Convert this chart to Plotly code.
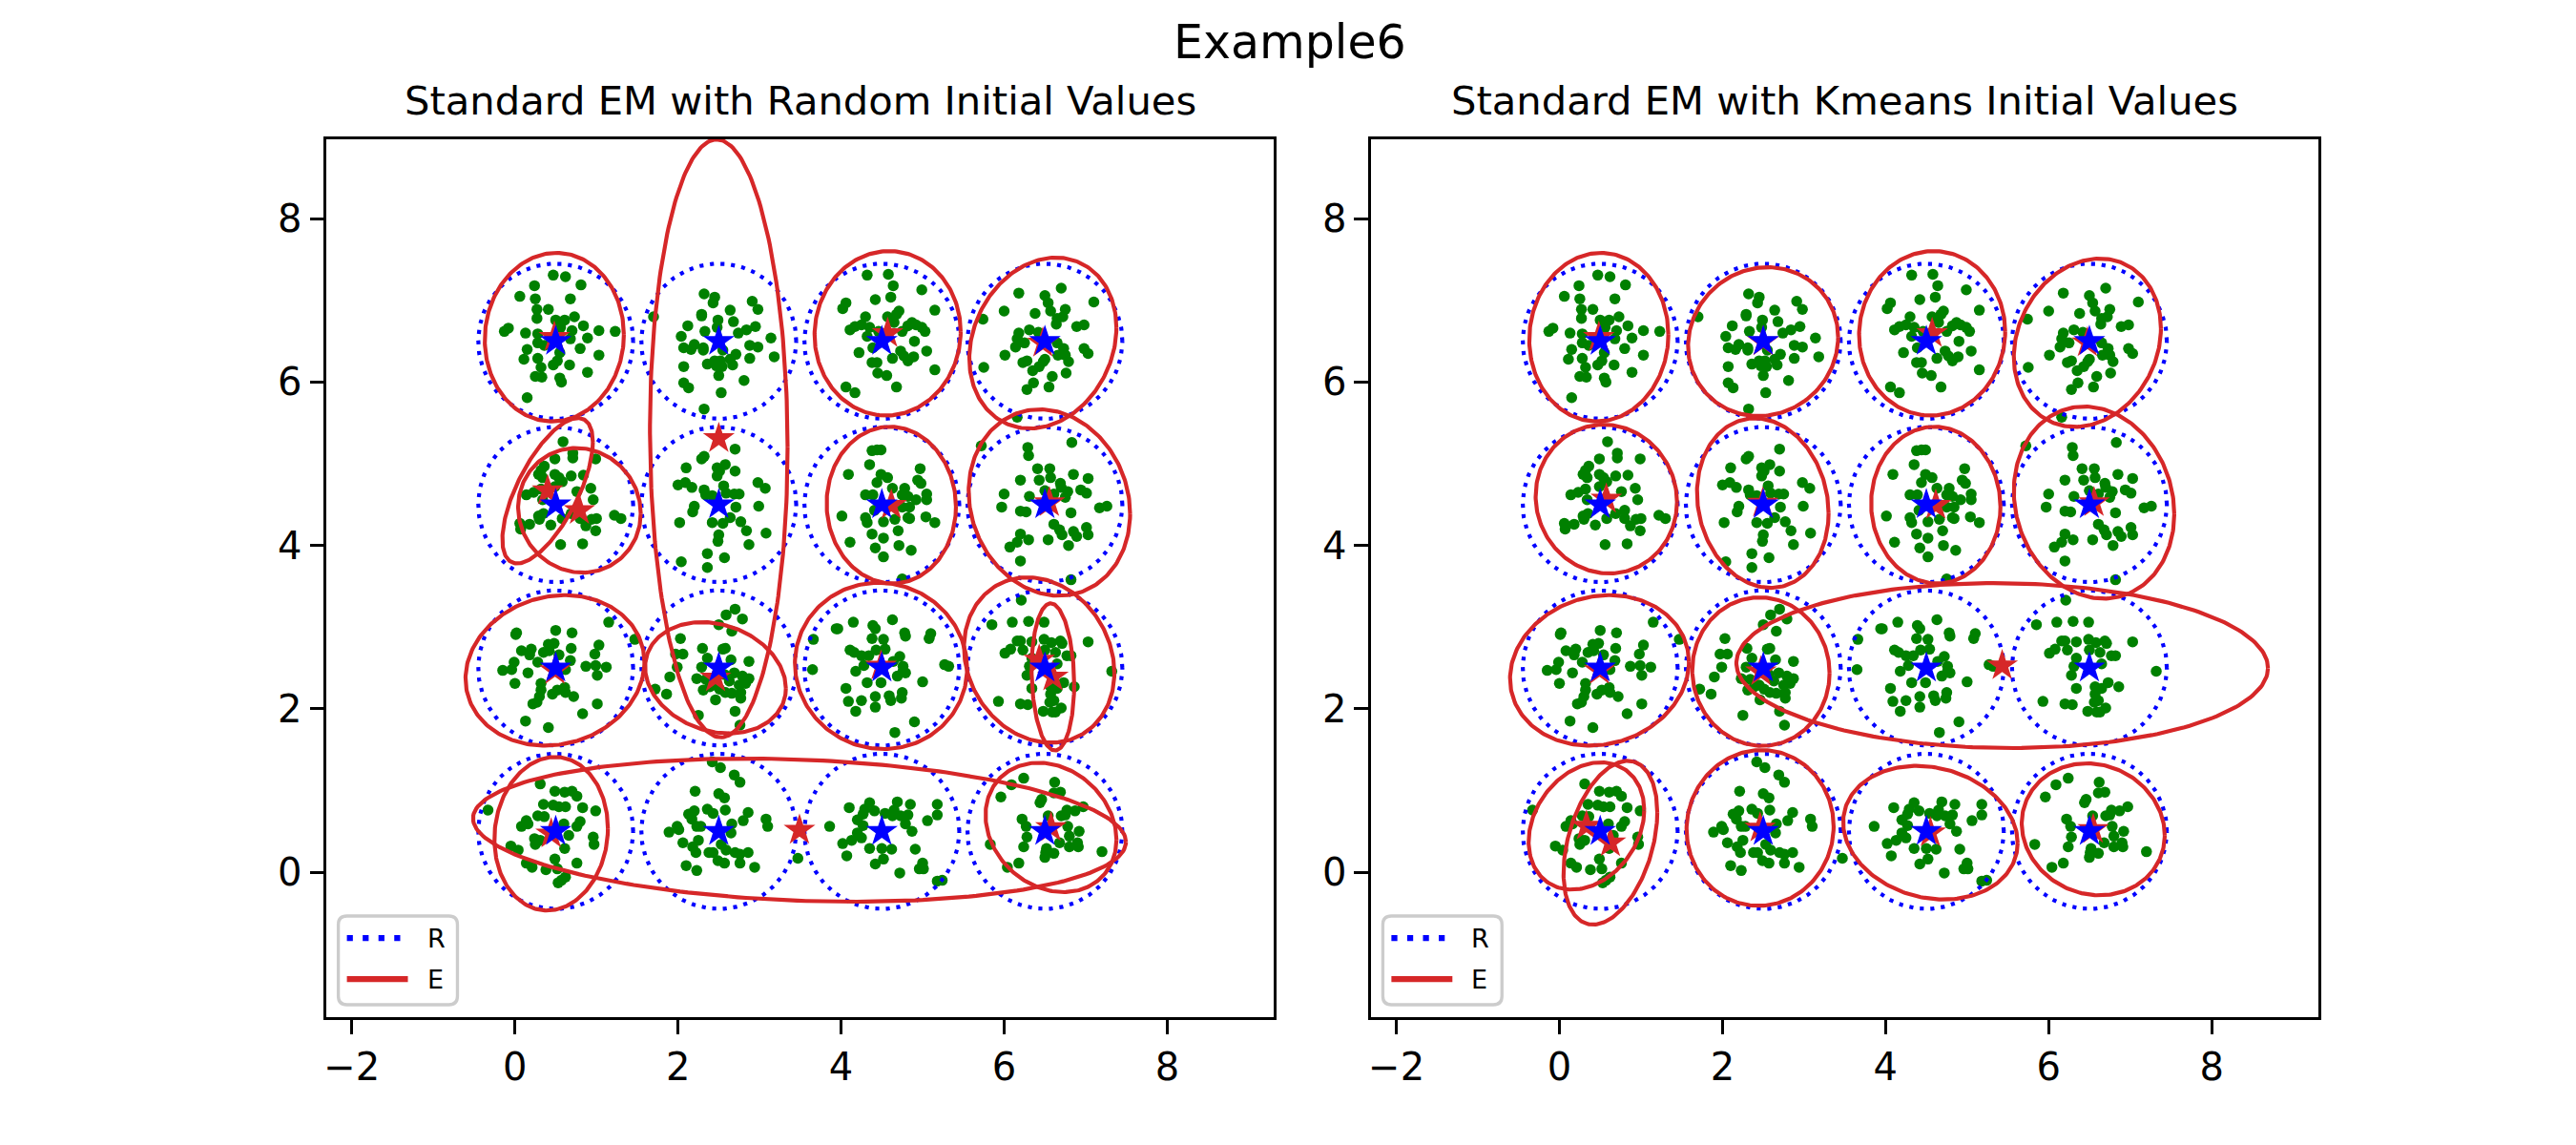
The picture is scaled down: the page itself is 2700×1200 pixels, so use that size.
import numpy as np
import plotly.graph_objects as go

# green sample points per grid cell, (x, y)
c05_65 = [(.47,7.31),(.62,7.29),(.81,7.19),(.24,7.18),(.06,7.05),(.25,7.02),(.68,7.02),(.27,6.89),(.41,6.89),(.27,6.78),(.50,6.76),(.61,6.76),(.73,6.80),(.84,6.69),(1.03,6.63),(1.23,6.62),(-.08,6.66),(-.13,6.62),(.13,6.60),(.28,6.59),(.70,6.63),(.89,6.54),(.68,6.53),(.28,6.48),(.36,6.45),(.15,6.40),(.80,6.41),(1.03,6.33),(.11,6.28),(.28,6.29),(.52,6.26),(.47,6.21),(.67,6.21),(.32,6.18),(.89,6.12),(.25,6.07),(.33,6.06),(.55,6.05),(.57,6.00),(.15,5.81),(.54,6.73),(.56,6.67),(.55,6.36)]
c25_65 = [(2.32,7.08),(2.45,7.04),(2.43,6.97),(2.91,6.99),(2.98,6.89),(2.64,6.88),(2.29,6.83),(2.29,6.81),(2.49,6.76),(2.68,6.74),(2.12,6.69),(2.48,6.67),(2.33,6.62),(2.84,6.64),(2.95,6.68),(2.74,6.60),(2.04,6.56),(3.14,6.54),(2.20,6.46),(2.07,6.42),(2.16,6.40),(2.31,6.42),(2.31,6.39),(2.88,6.45),(2.98,6.43),(2.55,6.39),(2.71,6.34),(2.64,6.28),(2.88,6.29),(3.18,6.31),(2.36,6.22),(2.45,6.26),(2.52,6.26),(2.47,6.20),(2.54,6.19),(2.67,6.21),(2.07,6.19),(2.50,6.08),(2.81,6.02),(2.07,5.99),(2.13,5.93),(2.53,5.87),(2.32,5.67),(1.70,6.80)]
c45_65 = [(4.32,7.31),(4.58,7.32),(4.64,7.18),(4.99,7.13),(4.42,7.01),(4.61,7.04),(4.06,6.97),(4.02,6.90),(5.15,6.88),(4.71,6.87),(4.68,6.83),(4.30,6.80),(4.57,6.80),(4.65,6.73),(4.25,6.70),(4.17,6.68),(4.11,6.64),(4.35,6.67),(4.32,6.56),(4.46,6.62),(4.75,6.62),(4.82,6.69),(4.87,6.73),(4.92,6.70),(4.99,6.67),(5.03,6.62),(4.90,6.50),(4.39,6.42),(4.22,6.36),(5.05,6.38),(4.73,6.38),(4.77,6.32),(4.82,6.26),(4.89,6.31),(4.63,6.29),(4.38,6.24),(4.44,6.24),(5.15,6.15),(4.45,6.11),(4.56,6.08),(4.06,5.94),(4.17,5.87),(4.68,5.94)]
c65_65 = [(6.70,7.15),(6.18,7.09),(6.50,7.06),(6.54,6.97),(7.10,6.98),(6.00,6.87),(6.75,6.89),(6.57,6.87),(6.38,6.84),(5.74,6.77),(6.72,6.80),(6.65,6.78),(6.64,6.71),(6.89,6.68),(6.98,6.70),(6.31,6.64),(6.18,6.60),(6.42,6.61),(6.16,6.53),(6.25,6.48),(6.14,6.43),(6.65,6.48),(6.73,6.41),(6.01,6.33),(5.75,6.18),(6.98,6.41),(7.03,6.35),(6.66,6.33),(6.75,6.33),(6.79,6.25),(6.50,6.28),(6.48,6.25),(6.28,6.26),(6.23,6.24),(6.43,6.19),(6.35,6.14),(6.76,6.11),(6.59,6.07),(6.36,5.99),(6.28,5.91),(6.55,5.94),(6.16,5.57)]
c05_45 = [(.59,5.27),(.71,5.13),(.71,5.07),(.49,5.06),(.99,5.06),(.36,4.97),(.32,4.92),(.29,4.87),(.34,4.83),(.49,4.87),(.54,4.83),(.58,4.78),(.69,4.85),(.84,4.86),(.49,4.72),(.93,4.70),(.32,4.69),(.23,4.65),(.14,4.62),(.76,4.66),(.34,4.56),(.96,4.56),(.80,4.43),(1.22,4.37),(1.30,4.33),(.69,4.39),(.35,4.39),(.29,4.36),(.30,4.32),(.58,4.33),(.80,4.33),(1.00,4.33),(.94,4.32),(.44,4.25),(.18,4.26),(.06,4.27),(.07,4.20),(.87,4.24),(.99,4.18),(.56,4.01),(.83,4.02)]
c25_45 = [(2.70,5.18),(2.32,5.09),(2.29,5.06),(2.10,4.95),(2.48,4.95),(2.58,4.99),(2.51,4.91),(2.48,4.85),(2.70,4.91),(2.98,4.77),(3.07,4.70),(2.00,4.74),(2.09,4.77),(2.17,4.71),(2.32,4.68),(2.56,4.73),(2.34,4.62),(2.42,4.61),(2.59,4.64),(2.69,4.63),(2.75,4.63),(2.71,4.47),(2.99,4.48),(2.20,4.48),(2.18,4.41),(2.02,4.28),(2.42,4.28),(2.55,4.27),(2.64,4.34),(2.77,4.29),(2.84,4.18),(3.08,4.15),(2.50,4.13),(2.49,4.05),(2.87,4.01),(2.36,3.90),(2.57,3.85),(2.04,3.80),(2.36,3.73)]
c45_45 = [(4.44,5.17),(4.49,5.17),(4.38,5.16),(4.35,4.99),(4.97,4.94),(4.09,4.87),(4.49,4.87),(4.57,4.83),(4.44,4.77),(4.94,4.80),(4.98,4.76),(4.63,4.70),(4.78,4.70),(4.30,4.62),(4.39,4.62),(5.05,4.63),(5.05,4.56),(4.92,4.56),(4.75,4.62),(4.82,4.60),(4.84,4.47),(4.75,4.47),(4.01,4.36),(4.30,4.34),(4.32,4.28),(4.52,4.29),(4.66,4.32),(4.82,4.34),(4.84,4.33),(5.04,4.35),(5.15,4.28),(4.38,4.14),(4.52,4.09),(4.70,4.18),(4.11,4.04),(4.71,4.00),(4.42,3.97),(4.86,3.94),(4.52,3.86),(4.75,3.59),(4.41,4.43)]
c65_45 = [(5.72,5.22),(6.29,5.20),(6.30,5.10),(6.83,5.26),(6.41,4.94),(6.56,4.94),(6.57,4.83),(6.85,4.87),(7.03,4.82),(6.20,4.80),(6.43,4.80),(6.69,4.76),(6.70,4.71),(6.94,4.68),(7.01,4.64),(6.78,4.66),(6.50,4.67),(6.61,4.63),(6.00,4.63),(6.31,4.60),(6.75,4.59),(5.97,4.47),(6.20,4.42),(6.27,4.41),(6.82,4.40),(7.17,4.46),(7.26,4.48),(6.61,4.26),(6.68,4.19),(6.71,4.13),(6.85,4.17),(6.89,4.11),(7.01,4.22),(7.03,4.13),(6.20,4.14),(6.16,4.04),(6.30,4.07),(6.07,3.98),(6.54,4.07),(6.79,4.00),(6.20,3.81),(6.82,3.58)]
c05_25 = [(1.15,3.06),(1.47,2.85),(.50,2.96),(.70,2.93),(.02,2.93),(.01,2.91),(.41,2.79),(.48,2.80),(.69,2.74),(1.03,2.78),(.98,2.67),(.08,2.71),(.20,2.73),(.18,2.66),(.35,2.69),(.42,2.71),(.54,2.66),(.68,2.59),(.28,2.57),(-.01,2.57),(-.04,2.48),(-.15,2.47),(.16,2.44),(.87,2.52),(.99,2.53),(1.12,2.51),(1.01,2.41),(.62,2.48),(0.0,2.31),(.32,2.31),(.32,2.23),(.46,2.18),(.52,2.23),(.61,2.26),(.62,2.20),(.72,2.15),(.30,2.15),(.27,2.08),(.22,2.06),(1.01,2.06),(.83,1.94),(.13,1.85),(.41,1.77)]
c25_25 = [(2.70,3.22),(2.59,3.15),(2.79,3.10),(2.50,3.03),(2.66,2.95),(2.03,2.86),(2.30,2.74),(2.36,2.62),(2.55,2.73),(2.58,2.74),(1.97,2.67),(2.06,2.67),(2.87,2.58),(2.65,2.60),(1.99,2.51),(2.29,2.51),(1.90,2.39),(1.72,2.24),(1.86,2.18),(2.23,2.37),(2.69,2.44),(2.79,2.40),(2.87,2.37),(2.83,2.31),(2.63,2.34),(2.34,2.36),(2.45,2.29),(2.31,2.23),(2.39,2.27),(2.51,2.24),(2.58,2.20),(2.66,2.19),(2.77,2.20),(2.77,2.13),(2.46,2.11),(2.70,1.97),(2.25,1.92),(2.76,1.80),(2.57,2.42),(2.75,2.29)]
c45_25 = [(4.63,3.09),(4.15,3.06),(4.39,3.02),(3.94,2.98),(3.96,2.98),(4.42,2.98),(4.78,2.93),(4.79,2.89),(5.10,2.92),(5.08,2.86),(3.66,2.85),(4.38,2.86),(4.52,2.85),(4.11,2.72),(4.16,2.69),(4.43,2.72),(4.54,2.73),(4.25,2.65),(4.34,2.65),(4.72,2.64),(4.28,2.53),(4.64,2.58),(4.76,2.52),(5.27,2.54),(5.32,2.52),(3.65,2.48),(4.18,2.46),(4.76,2.46),(4.79,2.44),(4.69,2.40),(4.32,2.32),(4.49,2.32),(5.00,2.33),(4.06,2.25),(4.75,2.20),(4.74,2.13),(4.59,2.16),(4.61,2.10),(4.42,2.15),(4.42,2.02),(4.25,2.10),(4.09,2.09),(4.18,1.97),(4.90,1.84),(4.66,1.71)]
c65_25 = [(6.21,3.33),(5.85,3.03),(6.10,3.06),(6.30,3.07),(6.49,3.06),(7.03,2.82),(6.16,2.83),(6.20,2.83),(6.49,2.85),(6.58,2.81),(6.69,2.83),(6.71,2.80),(6.08,2.73),(6.01,2.68),(6.23,2.72),(6.50,2.72),(6.63,2.69),(6.34,2.82),(6.77,2.65),(6.82,2.65),(6.34,2.62),(6.65,2.55),(6.31,2.52),(6.28,2.41),(7.32,2.46),(6.86,2.27),(6.73,2.32),(6.34,2.25),(6.57,2.27),(6.57,2.18),(6.65,2.25),(5.93,2.09),(6.20,2.06),(6.29,2.05),(6.56,2.08),(6.61,2.10),(6.48,1.97),(6.59,1.96),(6.63,1.96),(6.70,2.01)]
c05_05 = [(.31,1.08),(-.33,.76),(.49,.99),(.61,.98),(.70,.99),(.76,.93),(.35,.83),(.47,.82),(.54,.80),(.62,.80),(.83,.79),(.99,.75),(.28,.69),(.36,.68),(.14,.63),(.16,.59),(.08,.56),(.80,.62),(.76,.56),(.60,.59),(.66,.45),(.24,.41),(.31,.39),(.25,.34),(.96,.43),(.97,.34),(.61,.29),(-.05,.32),(.04,.27),(.49,.16),(.14,.11),(.21,.06),(.76,.11),(.38,.03),(.52,.04),(.62,-.06),(.57,-.10),(.53,-.13)]
c25_05 = [(2.42,1.35),(2.52,1.28),(2.69,1.19),(2.76,1.10),(2.21,.99),(2.50,.96),(2.57,.91),(2.36,.77),(2.58,.76),(2.43,.72),(2.20,.75),(2.13,.71),(2.17,.65),(2.86,.73),(2.80,.63),(3.08,.65),(3.10,.56),(2.66,.59),(2.23,.56),(2.28,.56),(1.99,.56),(1.89,.49),(2.01,.52),(2.65,.48),(2.06,.36),(2.25,.39),(2.18,.31),(2.22,.24),(2.53,.34),(2.59,.27),(2.38,.24),(2.43,.24),(2.70,.24),(2.76,.22),(2.86,.24),(2.76,.11),(2.94,.06),(2.49,.14),(2.57,.11),(2.10,.08),(2.23,.02),(3.47,.17)]
c45_05 = [(4.35,.85),(4.69,.86),(4.85,.83),(4.10,.79),(5.18,.83),(5.18,.70),(5.06,.63),(4.29,.77),(4.27,.71),(4.41,.75),(4.54,.72),(4.65,.76),(4.63,.69),(4.73,.69),(4.82,.70),(4.79,.59),(4.20,.64),(4.27,.57),(3.86,.56),(4.87,.50),(4.20,.48),(4.25,.42),(4.13,.39),(4.02,.35),(4.35,.29),(4.07,.20),(4.50,.29),(4.62,.28),(4.91,.28),(4.52,.16),(4.42,.10),(4.72,-.01),(5.00,.11),(4.96,.04),(5.01,.04),(5.18,-.11),(5.24,-.10)]
c65_05 = [(6.24,1.15),(6.09,1.07),(6.62,1.10),(6.61,.97),(6.69,.98),(5.96,.92),(6.46,.89),(6.44,.85),(6.97,.80),(6.87,.75),(6.77,.76),(6.70,.69),(6.75,.70),(6.54,.69),(6.22,.65),(6.27,.56),(6.78,.56),(6.92,.50),(6.80,.44),(6.28,.43),(6.24,.31),(5.83,.34),(6.68,.36),(6.80,.31),(6.91,.31),(6.52,.29),(6.61,.23),(6.51,.24),(6.50,.18),(7.20,.25),(6.18,.11),(6.04,.06),(6.90,.36)]

all_points = (c05_65 + c25_65 + c45_65 + c65_65 + c05_45 + c25_45 + c45_45 + c65_45
              + c05_25 + c25_25 + c45_25 + c65_25 + c05_05 + c25_05 + c45_05 + c65_05)
green_x = [p[0] for p in all_points]
green_y = [p[1] for p in all_points]

# real centres, dotted circles of this radius
real_x = [.5, 2.5, 4.5, 6.5] * 4
real_y = [6.5] * 4 + [4.5] * 4 + [2.5] * 4 + [.5] * 4
real_r = .95

# estimated gaussians: centre, half extent in x and y, correlation
left_cx = [.483, 2.50, .791, .401, 4.571, 6.475, 4.616, 6.555, .491, 2.46, 4.49, 6.43, 6.598, .444, 3.49, 6.575]
left_cy = [6.55, 5.31, 4.43, 4.67, 6.597, 6.478, 4.494, 4.525, 2.47, 2.38, 2.525, 2.597, 2.39, .47, .514, .547]
left_rx = [.853, .844, .752, .555, .896, .902, .793, .99, 1.097, .863, 1.056, .922, .261, .696, 4.004, .803]
left_ry = [1.032, 3.66, .763, .89, 1.007, 1.046, .96, 1.141, .921, .681, 1.018, 1.012, .901, .94, .876, .792]
left_rho = [.03, -.03, -.05, .67, .02, .18, -.02, -.12, .11, -.19, -.03, -.155, -.1, .07, -.165, -.19]

right_cx = [.483, 2.498, 4.571, 6.475, .575, 2.494, 4.616, 6.557, .491, 2.471, 5.43, .331, .625, 2.461, 4.55, 6.547]
right_cy = [6.55, 6.495, 6.597, 6.482, 4.568, 4.519, 4.494, 4.525, 2.47, 2.455, 2.529, .565, .36, .541, .483, .524]
right_rx = [.853, .92, .896, .902, .867, .807, .793, .984, 1.097, .842, 3.26, .709, .575, .902, 1.07, .877]
right_ry = [1.032, .911, 1.007, 1.03, .911, 1.038, .96, 1.176, .921, .909, 1.01, .779, 1.003, .954, .818, .808]
right_rho = [.03, .06, .02, .17, -.04, -.12, -.02, -.12, .11, -.02, -.03, .25, .37, .02, -.155, -.09]

x_ticks = [-2, 0, 2, 4, 6, 8]
y_ticks = [0, 2, 4, 6, 8]

RED = "#d62728"
W, H = 2700, 1200


def outline(cx, cy, rx, ry, rho):
    t = np.linspace(0, 2 * np.pi, 240)
    xs, ys = [], []
    for a, b, c, d, e in zip(cx, cy, rx, ry, rho):
        xs += list(a + c * np.cos(t)) + [None]
        ys += list(b + d * np.cos(t - np.arccos(e))) + [None]
    return xs, ys


def add_panel(fig, xa, ya, cx, cy, rx, ry, rho):
    fig.add_trace(go.Scatter(x=green_x, y=green_y, mode="markers", xaxis=xa, yaxis=ya, showlegend=False,
                             marker=dict(color="green", size=11.5, line_width=0)))
    n = len(real_x)
    cx_, cy_ = outline(real_x, real_y, [real_r] * n, [real_r] * n, [0] * n)
    fig.add_trace(go.Scatter(x=cx_, y=cy_, mode="lines", name="R", xaxis=xa, yaxis=ya, showlegend=False,
                             line=dict(color="blue", width=4.17, dash="4.17px,6.88px")))
    ex, ey = outline(cx, cy, rx, ry, rho)
    fig.add_trace(go.Scatter(x=ex, y=ey, mode="lines", name="E", xaxis=xa, yaxis=ya, showlegend=False,
                             line=dict(color=RED, width=4.17)))
    fig.add_trace(go.Scatter(x=cx, y=cy, mode="markers", xaxis=xa, yaxis=ya, showlegend=False,
                             marker=dict(color=RED, symbol="star", size=25, line_width=0)))
    fig.add_trace(go.Scatter(x=real_x, y=real_y, mode="markers", xaxis=xa, yaxis=ya, showlegend=False,
                             marker=dict(color="blue", symbol="star", size=25, line_width=0)))


def px(v):
    return v / W


def py(v):
    return 1 - v / H


def legend_box(x0, x1, y0=960, y1=1053, r=9):
    a, b, c, d = px(x0), px(x1), py(y0), py(y1)
    rx, ry = r / W, r / H
    return (f"M{a + rx},{c} L{b - rx},{c} Q{b},{c} {b},{c - ry} L{b},{d + ry} Q{b},{d} {b - rx},{d} "
            f"L{a + rx},{d} Q{a},{d} {a},{d + ry} L{a},{c - ry} Q{a},{c} {a + rx},{c} Z")


fig = go.Figure()
add_panel(fig, "x", "y", left_cx, left_cy, left_rx, left_ry, left_rho)
add_panel(fig, "x2", "y2", right_cx, right_cy, right_rx, right_ry, right_rho)

axis_style = dict(showline=True, mirror=True, linecolor="black", linewidth=3.33, showgrid=False, zeroline=False,
                  ticks="outside", ticklen=14.6, tickwidth=3.33, tickcolor="black",
                  tickfont=dict(family="DejaVu Sans", size=40, color="black"))

shapes = []
annotations = []
# hand made legend for both panels, rounded frame like the original
for box_l, box_r, h0, h1, text_x in [(352, 477, 361, 425, 443), (1448, 1573, 1457, 1521, 1539)]:
    shapes.append(dict(type="path", xref="paper", yref="paper", path=legend_box(box_l, box_r),
                       line=dict(color="#cccccc", width=3.33), fillcolor="rgba(255,255,255,0.8)"))
    shapes.append(dict(type="line", xref="paper", yref="paper", x0=px(h0), x1=px(h1), y0=py(983), y1=py(983),
                       line=dict(color="blue", width=6.25, dash="6.25px,10.3px")))
    shapes.append(dict(type="line", xref="paper", yref="paper", x0=px(h0), x1=px(h1), y0=py(1026), y1=py(1026),
                       line=dict(color=RED, width=6.25)))
    for label, ly in [("R", 983), ("E", 1026)]:
        annotations.append(dict(text=label, xref="paper", yref="paper", x=px(text_x), y=py(ly), xanchor="left",
                                yanchor="middle", showarrow=False,
                                font=dict(family="DejaVu Sans", size=27, color="black")))

for label, centre in [("Standard EM with Random Initial Values", 836.5), ("Standard EM with Kmeans Initial Values", 1932.5)]:
    annotations.append(dict(text=label, xref="paper", yref="paper", x=px(centre), y=py(105), xanchor="center",
                            yanchor="middle", showarrow=False,
                            font=dict(family="DejaVu Sans", size=41.67, color="black")))
annotations.append(dict(text="Example6", xref="paper", yref="paper", x=0.5, y=py(45), xanchor="center",
                        yanchor="middle", showarrow=False,
                        font=dict(family="DejaVu Sans", size=49, color="black")))

# plotly draws axis lines outside the domain, so pull the domains in by half a line
fig.update_layout(
    width=W, height=H, margin=dict(l=0, r=0, t=0, b=0), autosize=False,
    paper_bgcolor="white", plot_bgcolor="white", showlegend=False,
    xaxis=dict(domain=[339.7 / W, 1333.3 / W], range=[-2.31, 9.304], tickvals=x_ticks, anchor="y", **axis_style),
    yaxis=dict(domain=[1 - 1066.3 / H, 1 - 145.7 / H], range=[-1.779, 8.976], tickvals=y_ticks, anchor="x", **axis_style),
    xaxis2=dict(domain=[1435.7 / W, 2429.3 / W], range=[-2.31, 9.304], tickvals=x_ticks, anchor="y2", **axis_style),
    yaxis2=dict(domain=[1 - 1066.3 / H, 1 - 145.7 / H], range=[-1.779, 8.976], tickvals=y_ticks, anchor="x2", **axis_style),
    shapes=shapes, annotations=annotations,
)

fig.write_html("out.html", config=dict(displayModeBar=False), post_script="document.body.style.margin='0';")
